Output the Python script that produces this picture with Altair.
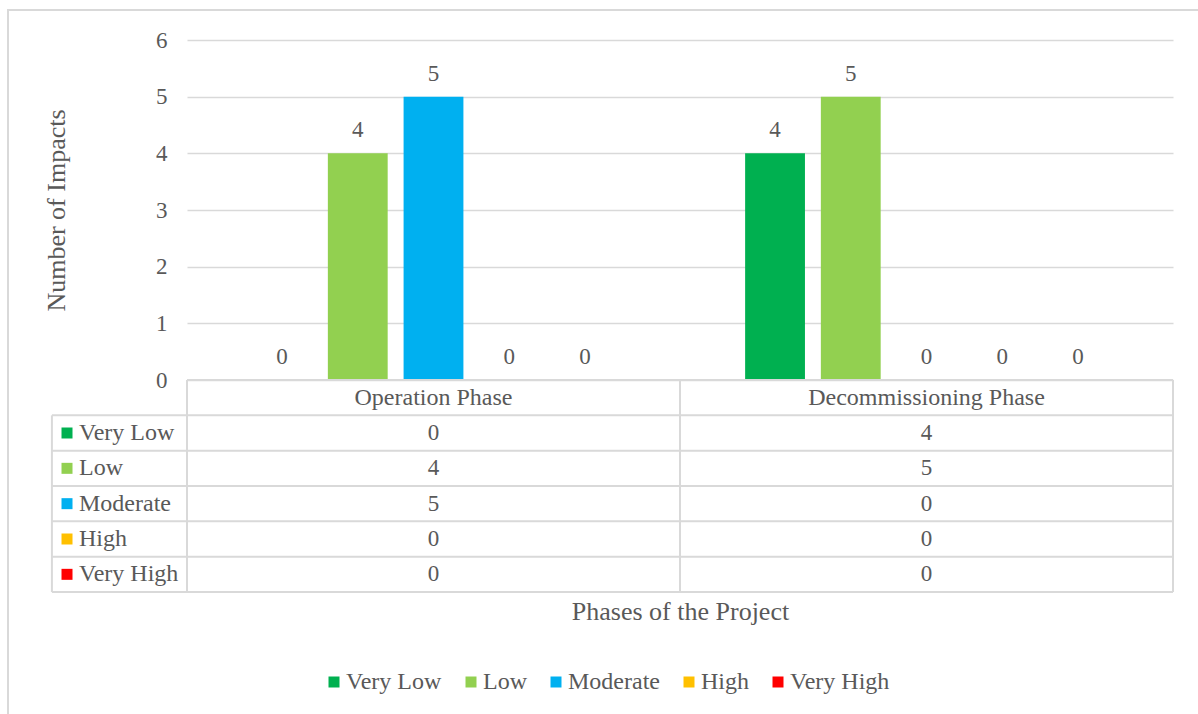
import altair as alt
import pandas as pd

# ---- data ----
phases = ["Operation Phase", "Decommissioning Phase"]
levels = ["Very Low", "Low", "Moderate", "High", "Very High"]
colors = ["#00B050", "#92D050", "#00B0F0", "#FFC000", "#FF0000"]
operation = [0, 4, 5, 0, 0]
decommissioning = [4, 5, 0, 0, 0]
y_ticks = [0, 1, 2, 3, 4, 5, 6]

FONT = "Liberation Serif"
TXT = "#595959"
GRID = "#d9d9d9"
FS_TICK = 23
FS_TABLE = 24
FS_TITLE = 26

rows = []
for pi_, (p, vals) in enumerate(zip(phases, [operation, decommissioning])):
    for li, (lvl, v) in enumerate(zip(levels, vals)):
        rows.append({"Phase": p, "Level": lvl, "Count": v,
                     "col": pi_ + 0.5, "row": li + 1.5})
df = pd.DataFrame(rows)

# ---- layout (table in column / row units) ----
PLOT_W, PLOT_H = 986, 552
BAR_H = 340
LEG_EDGE = -0.274      # left edge of legend column (in phase-column units)
LEG_SWATCH = -0.2434
LEG_TEXT = -0.219
n_rows = len(levels) + 1

tx = alt.Scale(domain=[0, len(phases)], range=[0, PLOT_W])
ty = alt.Scale(domain=[0, n_rows], range=[BAR_H, PLOT_H])

x_title_axis = alt.Axis(title="Phases of the Project", orient="bottom", labels=False,
                        ticks=False, domain=False, grid=False, titleFont=FONT,
                        titleFontSize=FS_TITLE, titleFontWeight="normal", titleColor=TXT,
                        titlePadding=6)

color = alt.Color("Level:N", scale=alt.Scale(domain=levels, range=colors),
                  legend=alt.Legend(title=None, orient="none", direction="horizontal",
                                    columns=5, legendX=135, legendY=630,
                                    symbolType="square", symbolSize=121,
                                    symbolStrokeWidth=0, symbolOpacity=1,
                                    labelFont=FONT, labelFontSize=FS_TABLE, labelColor=TXT,
                                    labelOffset=0, columnPadding=17))

# ---- bars ----
base = alt.Chart(df).encode(
    x=alt.X("Phase:N", sort=phases,
            scale=alt.Scale(paddingInner=0, paddingOuter=0), axis=None),
    xOffset=alt.XOffset("Level:N", sort=levels,
                        scale=alt.Scale(paddingInner=0.21, paddingOuter=0.86)),
    y=alt.Y("Count:Q", scale=alt.Scale(domain=[0, 6], range=[BAR_H, 0]),
            axis=alt.Axis(values=y_ticks, title="Number of Impacts", ticks=False,
                          domain=False, grid=True, gridColor=GRID, gridWidth=1.5,
                          labelFont=FONT, labelFontSize=FS_TICK, labelColor=TXT,
                          labelPadding=20, titleFont=FONT, titleFontSize=FS_TITLE,
                          titleFontWeight="normal", titleColor=TXT, titlePadding=86)),
)
bars = base.mark_bar().encode(color=color)
bar_labels = base.mark_text(dy=-16, baseline="alphabetic", font=FONT, fontSize=FS_TICK,
                            color=TXT).encode(text="Count:Q")

# ---- data table ----
hl = pd.DataFrame({"r": list(range(n_rows + 1))})
hl["x1"] = [0 if r == 0 else LEG_EDGE for r in hl["r"]]
hl["x2"] = len(phases)
vl = pd.DataFrame({"c": [LEG_EDGE] + list(range(len(phases) + 1))})
vl["y1"] = [1 if c == LEG_EDGE else 0 for c in vl["c"]]
vl["y2"] = n_rows

hlines = alt.Chart(hl).mark_rule(color=GRID, strokeWidth=2).encode(
    x=alt.X("x1:Q", scale=tx, axis=x_title_axis), x2="x2:Q",
    y=alt.Y("r:Q", scale=ty, axis=None))
vlines = alt.Chart(vl).mark_rule(color=GRID, strokeWidth=2).encode(
    x=alt.X("c:Q", scale=tx, axis=x_title_axis),
    y=alt.Y("y1:Q", scale=ty, axis=None), y2="y2:Q")

hdr = pd.DataFrame({"Phase": phases, "col": [i + 0.5 for i in range(len(phases))],
                    "row": [0.5] * len(phases)})
header = alt.Chart(hdr).mark_text(font=FONT, fontSize=FS_TABLE, color=TXT,
                                  baseline="middle").encode(
    x=alt.X("col:Q", scale=tx, axis=x_title_axis),
    y=alt.Y("row:Q", scale=ty, axis=None), text="Phase:N")
cells = alt.Chart(df).mark_text(font=FONT, fontSize=FS_TICK, color=TXT,
                                baseline="middle").encode(
    x=alt.X("col:Q", scale=tx, axis=x_title_axis),
    y=alt.Y("row:Q", scale=ty, axis=None), text="Count:Q")

leg = pd.DataFrame({"Level": levels, "row": [i + 1.5 for i in range(len(levels))],
                    "tx": [LEG_TEXT] * len(levels), "sx": [LEG_SWATCH] * len(levels)})
leg_text = alt.Chart(leg).mark_text(font=FONT, fontSize=FS_TABLE, color=TXT, align="left",
                                    baseline="middle").encode(
    x=alt.X("tx:Q", scale=tx, axis=x_title_axis),
    y=alt.Y("row:Q", scale=ty, axis=None), text="Level:N")
leg_sw = alt.Chart(leg).mark_square(size=121, opacity=1).encode(
    x=alt.X("sx:Q", scale=tx, axis=x_title_axis),
    y=alt.Y("row:Q", scale=ty, axis=None), color=color)

frame = alt.Chart(pd.DataFrame({"a": [0]})).mark_rect(
    fillOpacity=0, stroke=GRID, strokeWidth=2).encode(
    x=alt.value(-179), x2=alt.value(1100), y=alt.value(-30), y2=alt.value(700))

table = alt.layer(frame, hlines, vlines, header, cells, leg_text, leg_sw)

chart = alt.layer(alt.layer(bars, bar_labels), table).resolve_scale(
    x="independent", y="independent"
).properties(
    width=PLOT_W, height=PLOT_H, autosize="none",
    padding={"left": 187, "top": 40, "right": 25, "bottom": 122},
    background="white",
).configure_view(stroke=None)

chart.save("out.html", embed_options={"renderer": "svg", "actions": False})
